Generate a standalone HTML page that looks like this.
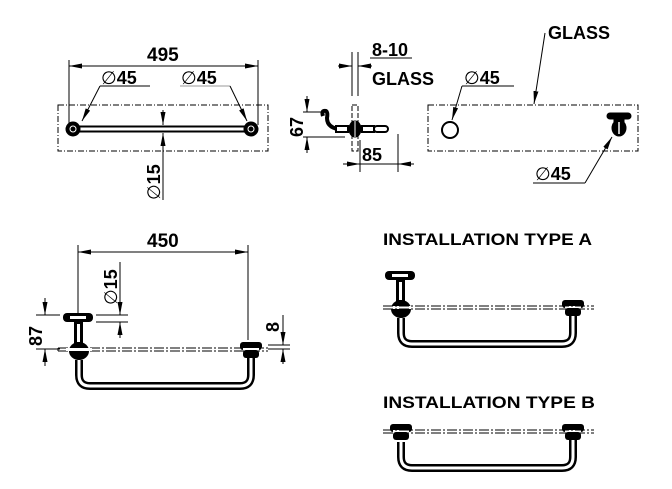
<!DOCTYPE html>
<html><head><meta charset="utf-8"><style>
html,body{margin:0;padding:0;background:#fff}
svg{display:block}
text{font-family:"Liberation Sans",Arial,sans-serif;font-weight:bold;fill:#000}
.o{font-weight:normal}
</style></head><body>
<svg width="672" height="489" viewBox="0 0 672 489" xmlns="http://www.w3.org/2000/svg">
<defs>
<marker id="a" viewBox="0 0 13 5" refX="13" refY="2.5" markerWidth="13" markerHeight="5" markerUnits="userSpaceOnUse" orient="auto-start-reverse"><path d="M0,0 L13,2.5 L0,5 z" fill="#000"/></marker>
</defs>
<g stroke="#000" fill="none" stroke-width="1">
<rect x="58" y="105" width="210" height="46" stroke-dasharray="6,2,1,2"/>
<line x1="69" y1="60" x2="69" y2="125"/>
<line x1="258" y1="60" x2="258" y2="125"/>
<line x1="69" y1="66" x2="258" y2="66" marker-start="url(#a)" marker-end="url(#a)"/>
<line x1="73" y1="126.5" x2="251" y2="126.5" stroke-width="2"/>
<line x1="73" y1="131.5" x2="251" y2="131.5" stroke-width="2"/>
<circle cx="73" cy="129" r="7" fill="#000"/><circle cx="73" cy="129" r="3" stroke="#fff"/>
<circle cx="251" cy="129" r="7" fill="#000"/><circle cx="251" cy="129" r="3" stroke="#fff"/>
<line x1="100" y1="86" x2="150" y2="86"/>
<line x1="100" y1="86" x2="82" y2="121" marker-end="url(#a)"/>
<line x1="180" y1="86" x2="230" y2="86" stroke="#999"/>
<line x1="230" y1="86" x2="247" y2="121" marker-end="url(#a)"/>
<line x1="163" y1="110" x2="163" y2="125" marker-end="url(#a)"/>
<line x1="163" y1="200" x2="163" y2="133" marker-end="url(#a)"/>
<line x1="352" y1="52" x2="352" y2="96"/>
<line x1="358" y1="52" x2="358" y2="96"/>
<line x1="338" y1="66" x2="352" y2="66" marker-end="url(#a)"/>
<line x1="372" y1="66" x2="358" y2="66" marker-end="url(#a)"/>
<line x1="370" y1="58" x2="412" y2="58"/>
<rect x="352" y="105" width="6" height="46" stroke-dasharray="5,2"/>
<line x1="307" y1="96" x2="307" y2="112" marker-end="url(#a)"/>
<line x1="307" y1="153" x2="307" y2="137" marker-end="url(#a)"/>
<line x1="303" y1="112" x2="326" y2="112"/>
<line x1="303" y1="137" x2="345" y2="137"/>
<path d="M323,116 Q321,110 326,111 Q328,112 327,118 Q327,127 338,129" stroke-width="4"/>
<rect x="336" y="126" width="12" height="6" fill="#fff" stroke-width="2"/>
<ellipse cx="355" cy="129" rx="6" ry="8" fill="#000"/>
<line x1="355" y1="121" x2="355" y2="137" stroke="#fff"/>
<rect x="362" y="126" width="12" height="6" fill="#fff" stroke-width="2"/>
<rect x="374" y="126" width="14" height="6" rx="3" fill="#fff" stroke-width="2"/>
<line x1="360" y1="140" x2="360" y2="172"/>
<line x1="398" y1="134" x2="398" y2="172"/>
<line x1="343" y1="164" x2="398" y2="164"/>
<line x1="343" y1="164" x2="360" y2="164" marker-end="url(#a)"/>
<line x1="414" y1="164" x2="398" y2="164" marker-end="url(#a)"/>
<rect x="428" y="105" width="210" height="46" stroke-dasharray="6,2,1,2"/>
<circle cx="450" cy="130" r="8" stroke-width="2"/>
<line x1="545" y1="33" x2="534" y2="104" marker-end="url(#a)"/>
<line x1="462" y1="86" x2="514" y2="86"/>
<line x1="462" y1="86" x2="452" y2="120" marker-end="url(#a)"/>
<line x1="533" y1="183" x2="585" y2="183"/>
<line x1="585" y1="183" x2="612" y2="137" marker-end="url(#a)"/>
<rect x="607" y="113" width="24" height="6" rx="3" fill="#000"/>
<rect x="614" y="116" width="10" height="6" fill="#000"/>
<ellipse cx="619" cy="128" rx="7" ry="8" fill="#000"/>
<line x1="619" y1="122" x2="619" y2="134" stroke="#fff" stroke-width="1.5"/>
<line x1="78" y1="245" x2="78" y2="314"/>
<line x1="248" y1="245" x2="248" y2="340"/>
<line x1="78" y1="252" x2="248" y2="252" marker-start="url(#a)" marker-end="url(#a)"/>
<line x1="58" y1="348" x2="268" y2="348" stroke-dasharray="10,2,2,2"/>
<line x1="58" y1="351" x2="268" y2="351" stroke-dasharray="10,2,2,2"/>
<line x1="58" y1="348" x2="58" y2="351"/>
<line x1="36" y1="315" x2="60" y2="315"/>
<line x1="36" y1="349" x2="60" y2="349"/>
<line x1="45" y1="298" x2="45" y2="315" marker-end="url(#a)"/>
<line x1="45" y1="366" x2="45" y2="349" marker-end="url(#a)"/>
<line x1="96" y1="315" x2="128" y2="315"/>
<line x1="96" y1="322" x2="128" y2="322"/>
<line x1="120" y1="262" x2="120" y2="315" marker-end="url(#a)"/>
<line x1="120" y1="338" x2="120" y2="322" marker-end="url(#a)"/>
<line x1="268" y1="345" x2="290" y2="345"/>
<line x1="268" y1="349" x2="290" y2="349"/>
<line x1="283" y1="315" x2="283" y2="345" marker-end="url(#a)"/>
<line x1="283" y1="364" x2="283" y2="349" marker-end="url(#a)"/>
</g>
<g id="bl">
<rect x="63" y="313" width="30" height="9" rx="4" fill="#000"/>
<rect x="70" y="316" width="16" height="3" fill="#fff"/>
<rect x="74" y="322" width="9" height="22" fill="#000"/>
<rect x="77" y="324" width="3" height="18" fill="#fff"/>
<ellipse cx="79" cy="351" rx="10" ry="9" fill="#000"/>
<rect x="66" y="348" width="26" height="3" fill="#fff"/>
<path d="M79,360 V375 Q79,386 90,386 H240 Q251,386 251,375 V358" fill="none" stroke="#000" stroke-width="8"/>
<path d="M79,360 V375 Q79,386 90,386 H240 Q251,386 251,375 V358" fill="none" stroke="#fff" stroke-width="3"/>
<rect x="240" y="342" width="22" height="8" rx="3" fill="#000"/>
<rect x="243" y="350" width="16" height="8" rx="3" fill="#000"/>
<rect x="243" y="348" width="16" height="2" fill="#fff"/>
</g>
<use href="#bl" transform="translate(322,-42)"/>
<g transform="translate(322,82)">
<path d="M79,360 V375 Q79,386 90,386 H240 Q251,386 251,375 V358" fill="none" stroke="#000" stroke-width="8"/>
<path d="M79,360 V375 Q79,386 90,386 H240 Q251,386 251,375 V358" fill="none" stroke="#fff" stroke-width="3"/>
<rect x="240" y="342" width="22" height="8" rx="3" fill="#000"/>
<rect x="243" y="350" width="16" height="8" rx="3" fill="#000"/>
<rect x="243" y="348" width="16" height="2" fill="#fff"/>
<rect x="68" y="342" width="22" height="8" rx="3" fill="#000"/>
<rect x="71" y="350" width="16" height="8" rx="3" fill="#000"/>
<rect x="71" y="348" width="16" height="2" fill="#fff"/>
</g>
<g stroke="#000" stroke-width="1" fill="none">
<line x1="383" y1="306" x2="594" y2="306" stroke-dasharray="10,2,2,2"/>
<line x1="383" y1="309" x2="594" y2="309" stroke-dasharray="10,2,2,2"/>
<line x1="383" y1="430" x2="594" y2="430" stroke-dasharray="10,2,2,2"/>
<line x1="383" y1="433" x2="594" y2="433" stroke-dasharray="10,2,2,2"/>
</g>
<text x="147" y="61" font-size="19">495</text>
<text x="101" y="84" font-size="18"><tspan class="o">∅</tspan>45</text>
<text x="181" y="84" font-size="18"><tspan class="o">∅</tspan>45</text>
<text x="0" y="0" font-size="18" transform="translate(160,200) rotate(-90)"><tspan class="o">∅</tspan>15</text>
<text x="372" y="56" font-size="18">8-10</text>
<text x="372" y="85" font-size="18">GLASS</text>
<text x="0" y="0" font-size="18" transform="translate(303,137) rotate(-90)">67</text>
<text x="362" y="161" font-size="18">85</text>
<text x="548" y="39" font-size="18">GLASS</text>
<text x="464" y="84" font-size="18"><tspan class="o">∅</tspan>45</text>
<text x="535" y="180" font-size="18"><tspan class="o">∅</tspan>45</text>
<text x="147" y="247" font-size="19">450</text>
<text x="0" y="0" font-size="18" transform="translate(117,305) rotate(-90)"><tspan class="o">∅</tspan>15</text>
<text x="0" y="0" font-size="18" transform="translate(42,346) rotate(-90)">87</text>
<text x="0" y="0" font-size="18" transform="translate(279,332) rotate(-90)">8</text>
<text x="383" y="245" font-size="17" textLength="209" lengthAdjust="spacingAndGlyphs">INSTALLATION TYPE A</text>
<text x="383" y="408" font-size="17" textLength="212" lengthAdjust="spacingAndGlyphs">INSTALLATION TYPE B</text>
</svg>
</body></html>
